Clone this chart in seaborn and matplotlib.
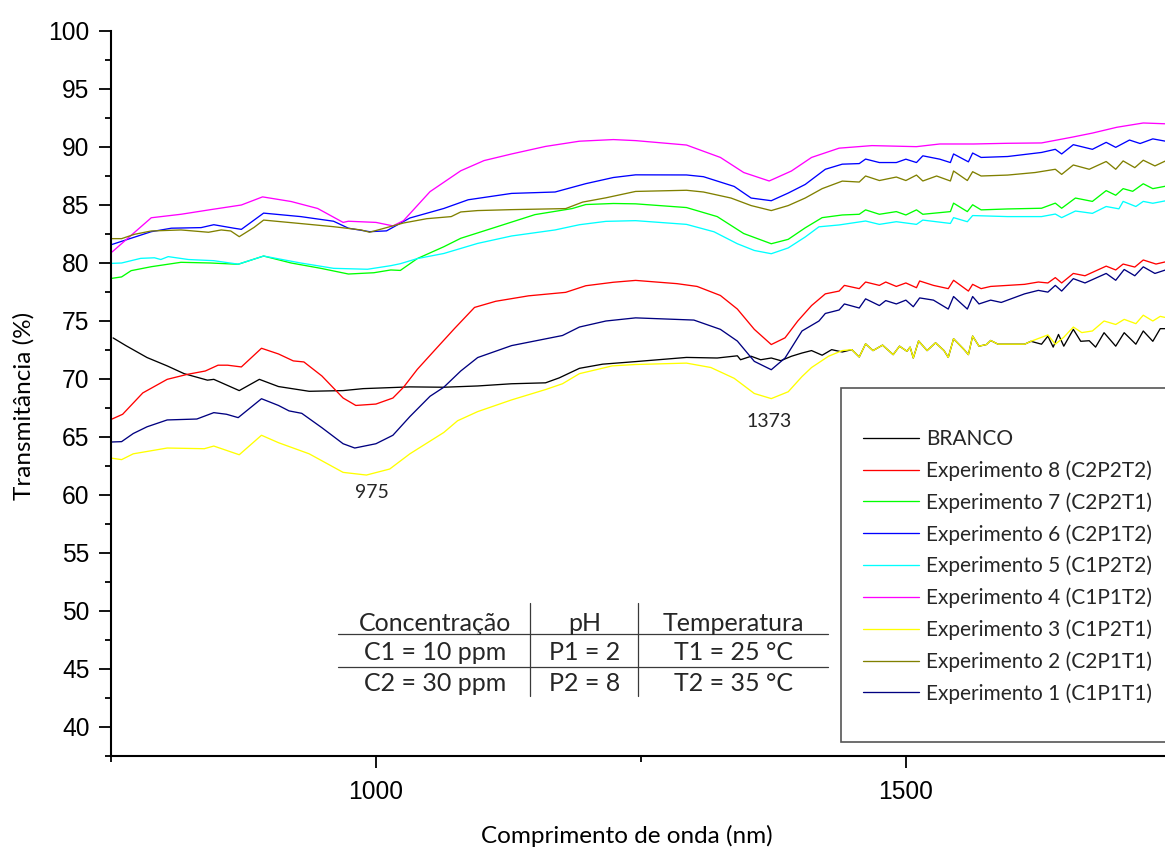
import numpy as np
import pandas as pd
import matplotlib
matplotlib.use("Agg")
import matplotlib.pyplot as plt
from matplotlib.ticker import MultipleLocator
from matplotlib.patches import Rectangle
from matplotlib.lines import Line2D
import seaborn as sns

# ---------------- data ----------------
series_names = ["BRANCO", "Experimento 8 (C2P2T2)", "Experimento 7 (C2P2T1)",
                "Experimento 6 (C2P1T2)", "Experimento 5 (C1P2T2)", "Experimento 4 (C1P1T2)",
                "Experimento 3 (C1P2T1)", "Experimento 2 (C2P1T1)", "Experimento 1 (C1P1T1)"]
series_colors = ["#000000", "#FF0000", "#00FF00", "#0000FF", "#00FFFF",
                 "#FF00FF", "#FFFF00", "#808000", "#000080"]

wl_branco = [752, 764, 784, 803, 819, 841, 847, 871, 890, 908, 937, 969, 988, 1032, 1064, 1096, 1128, 1160,
             1173, 1192, 1214, 1245, 1293, 1322, 1341, 1344, 1354, 1363, 1373, 1382, 1392, 1402, 1411, 1421,
             1430, 1440, 1449, 1456, 1462, 1469, 1478, 1488, 1494, 1501, 1504, 1507, 1512, 1520, 1528, 1536,
             1540, 1545, 1555, 1559, 1563, 1569, 1576, 1580, 1587, 1612, 1618, 1628, 1634, 1639, 1644, 1649,
             1658, 1665, 1673, 1679, 1687, 1698, 1706, 1717, 1724, 1733, 1740, 1745]
t_branco = [73.54, 72.88, 71.85, 71.13, 70.46, 69.9, 69.97, 69.0, 69.97, 69.35, 68.94, 69.0, 69.17, 69.32,
            69.29, 69.4, 69.59, 69.67, 70.1, 70.92, 71.28, 71.5, 71.86, 71.81, 72.0, 71.66, 71.96, 71.66,
            71.81, 71.58, 71.96, 72.24, 72.45, 72.05, 72.53, 72.33, 72.53, 71.9, 73.03, 72.45, 72.92, 72.1,
            72.83, 72.39, 72.75, 71.81, 73.28, 72.45, 73.12, 72.45, 71.86, 73.47, 72.53, 72.1, 73.7, 72.83,
            72.97, 73.32, 73.0, 73.0, 73.25, 73.0, 73.7, 72.75, 73.84, 72.83, 74.28, 73.25, 73.3, 72.75,
            73.99, 72.83, 73.99, 73.0, 74.14, 73.25, 74.34, 74.34]

wl_exp8 = [751, 761, 780, 803, 822, 839, 851, 860, 873, 892, 908, 922, 932, 949, 969, 981, 1000, 1016, 1026,
           1039, 1055, 1074, 1093, 1113, 1144, 1179, 1198, 1224, 1245, 1284, 1303, 1325, 1341, 1357, 1373,
           1386, 1398, 1411, 1424, 1437, 1442, 1456, 1462, 1475, 1481, 1491, 1500, 1510, 1513, 1526, 1540,
           1545, 1559, 1563, 1571, 1580, 1612, 1625, 1634, 1641, 1647, 1658, 1669, 1689, 1698, 1705, 1716,
           1724, 1736, 1745]
t_exp8 = [66.55, 66.96, 68.8, 69.97, 70.4, 70.69, 71.19, 71.19, 71.04, 72.65, 72.16, 71.56, 71.47, 70.26,
          68.36, 67.72, 67.84, 68.36, 69.29, 70.83, 72.44, 74.34, 76.17, 76.7, 77.17, 77.47, 78.04, 78.34,
          78.5, 78.22, 77.98, 77.2, 76.03, 74.28, 72.97, 73.55, 75.0, 76.33, 77.34, 77.58, 78.07, 77.79,
          78.36, 78.07, 78.36, 77.98, 78.28, 77.87, 78.45, 78.07, 77.79, 78.51, 77.58, 78.16, 77.79, 77.98,
          78.16, 78.36, 78.28, 78.74, 78.28, 79.1, 78.9, 79.73, 79.4, 79.91, 79.65, 80.26, 79.91, 80.1]

wl_exp7 = [751, 760, 769, 788, 816, 844, 870, 894, 920, 948, 974, 998, 1014, 1023, 1039, 1064, 1080, 1112,
           1150, 1185, 1198, 1224, 1245, 1293, 1322, 1347, 1373, 1389, 1405, 1421, 1440, 1456, 1462, 1475,
           1491, 1500, 1510, 1516, 1542, 1545, 1558, 1563, 1571, 1596, 1628, 1641, 1647, 1660, 1676, 1689,
           1698, 1705, 1714, 1724, 1733, 1745]
t_exp7 = [78.68, 78.8, 79.34, 79.68, 80.06, 80.0, 79.89, 80.6, 80.0, 79.54, 79.05, 79.16, 79.4, 79.36,
          80.38, 81.4, 82.13, 83.06, 84.17, 84.69, 85.04, 85.13, 85.1, 84.78, 84.0, 82.54, 81.66, 82.04,
          83.03, 83.91, 84.14, 84.2, 84.58, 84.2, 84.43, 84.14, 84.58, 84.2, 84.43, 85.16, 84.43, 85.02,
          84.58, 84.66, 84.72, 85.16, 84.72, 85.6, 85.31, 86.24, 85.84, 86.41, 86.18, 86.83, 86.41, 86.62]

wl_exp6 = [751, 788, 807, 835, 847, 866, 873, 894, 929, 960, 974, 994, 1010, 1032, 1064, 1087, 1128, 1169,
           1198, 1224, 1245, 1293, 1309, 1338, 1354, 1373, 1389, 1405, 1424, 1440, 1456, 1462, 1475, 1491,
           1500, 1510, 1516, 1532, 1542, 1545, 1559, 1563, 1571, 1596, 1628, 1641, 1647, 1658, 1676, 1689,
           1698, 1711, 1721, 1733, 1745]
t_exp6 = [81.6, 82.7, 83.0, 83.05, 83.3, 83.0, 82.9, 84.3, 84.0, 83.6, 83.0, 82.7, 82.77, 83.88, 84.7,
          85.45, 86.0, 86.12, 86.84, 87.37, 87.6, 87.59, 87.44, 86.6, 85.6, 85.37, 86.03, 86.77, 88.08,
          88.52, 88.57, 88.96, 88.66, 88.66, 88.95, 88.66, 89.24, 88.95, 88.66, 89.4, 88.72, 89.48, 89.1,
          89.18, 89.53, 89.8, 89.4, 90.2, 89.8, 90.4, 89.97, 90.6, 90.3, 90.7, 90.5]

wl_exp5 = [751, 760, 778, 791, 797, 804, 823, 847, 870, 894, 929, 960, 992, 1014, 1023, 1039, 1064, 1096,
           1128, 1169, 1192, 1217, 1245, 1293, 1319, 1341, 1357, 1373, 1389, 1405, 1418, 1437, 1462, 1475,
           1491, 1510, 1516, 1542, 1545, 1558, 1563, 1596, 1628, 1641, 1647, 1660, 1676, 1689, 1701, 1705,
           1717, 1724, 1733, 1745]
t_exp5 = [79.97, 80.0, 80.4, 80.45, 80.3, 80.55, 80.3, 80.2, 79.9, 80.6, 80.0, 79.54, 79.46, 79.77, 79.94,
          80.38, 80.82, 81.69, 82.33, 82.85, 83.3, 83.59, 83.65, 83.33, 82.69, 81.66, 81.08, 80.8, 81.3,
          82.24, 83.12, 83.28, 83.62, 83.33, 83.56, 83.33, 83.7, 83.41, 83.91, 83.56, 84.09, 84.0, 84.0,
          84.22, 83.91, 84.48, 84.28, 84.87, 84.67, 85.31, 84.87, 85.31, 85.15, 85.36]

wl_exp4 = [751, 788, 816, 844, 873, 893, 920, 945, 969, 974, 1000, 1016, 1026, 1051, 1080, 1102, 1128, 1160,
           1192, 1224, 1245, 1293, 1325, 1347, 1371, 1392, 1411, 1437, 1468, 1510, 1532, 1564, 1596, 1628,
           1657, 1676, 1699, 1724, 1745]
t_exp4 = [80.95, 83.9, 84.2, 84.6, 85.0, 85.7, 85.3, 84.7, 83.5, 83.6, 83.5, 83.2, 83.65, 86.15, 87.95,
          88.83, 89.4, 90.05, 90.5, 90.64, 90.55, 90.17, 89.1, 87.8, 87.07, 87.93, 89.1, 89.9, 90.12, 90.03,
          90.26, 90.26, 90.32, 90.35, 90.85, 91.2, 91.7, 92.07, 92.0]

wl_exp3 = [751, 760, 771, 803, 838, 847, 871, 892, 908, 937, 969, 991, 1013, 1032, 1064, 1077, 1096, 1128,
           1160, 1176, 1192, 1223, 1245, 1293, 1316, 1338, 1357, 1373, 1389, 1402, 1411, 1427, 1440, 1449,
           1456, 1462, 1469, 1478, 1488, 1494, 1501, 1504, 1507, 1512, 1520, 1528, 1536, 1540, 1545, 1555,
           1559, 1563, 1569, 1576, 1580, 1587, 1612, 1618, 1634, 1641, 1649, 1658, 1666, 1676, 1687, 1698,
           1706, 1717, 1724, 1733, 1740, 1745]
t_exp3 = [63.17, 63.05, 63.55, 64.05, 63.99, 64.22, 63.47, 65.15, 64.51, 63.55, 61.95, 61.72, 62.24, 63.55,
          65.39, 66.4, 67.19, 68.2, 69.09, 69.59, 70.46, 71.13, 71.25, 71.37, 70.99, 70.06, 68.75, 68.31,
          68.9, 70.21, 70.99, 71.96, 72.45, 72.53, 71.9, 73.03, 72.45, 72.92, 72.1, 72.83, 72.39, 72.75,
          71.81, 73.28, 72.45, 73.12, 72.45, 71.86, 73.47, 72.53, 72.1, 73.7, 72.83, 72.97, 73.32, 73.0,
          73.0, 73.25, 73.8, 73.0, 73.6, 74.48, 74.0, 74.14, 75.0, 74.7, 75.14, 74.77, 75.5, 75.0, 75.4,
          75.3]

wl_exp2 = [751, 760, 772, 788, 816, 842, 854, 863, 871, 885, 894, 929, 960, 986, 994, 1026, 1048, 1071,
           1080, 1096, 1128, 1179, 1195, 1217, 1245, 1293, 1309, 1335, 1354, 1373, 1389, 1405, 1421, 1440,
           1456, 1462, 1475, 1491, 1500, 1510, 1516, 1529, 1542, 1545, 1558, 1563, 1571, 1596, 1622, 1641,
           1647, 1658, 1673, 1689, 1698, 1705, 1716, 1724, 1735, 1745]
t_exp2 = [82.1, 82.1, 82.47, 82.76, 82.85, 82.65, 82.85, 82.76, 82.27, 83.07, 83.7, 83.4, 83.13, 82.85,
          82.65, 83.45, 83.82, 84.0, 84.4, 84.52, 84.6, 84.69, 85.25, 85.62, 86.17, 86.27, 86.12, 85.6,
          84.95, 84.52, 84.95, 85.6, 86.41, 87.06, 86.98, 87.5, 87.11, 87.41, 87.11, 87.58, 87.07, 87.5,
          87.07, 87.93, 87.11, 87.87, 87.5, 87.58, 87.8, 88.08, 87.64, 88.45, 88.08, 88.75, 88.08, 88.8,
          88.22, 88.86, 88.37, 88.8]

wl_exp1 = [751, 760, 771, 784, 803, 831, 847, 859, 870, 892, 908, 918, 930, 949, 969, 980, 1000, 1016,
           1032, 1051, 1064, 1080, 1096, 1128, 1160, 1176, 1192, 1217, 1245, 1277, 1300, 1325, 1341, 1357,
           1373, 1386, 1402, 1418, 1424, 1437, 1442, 1456, 1462, 1475, 1481, 1491, 1500, 1507, 1513, 1526,
           1540, 1545, 1558, 1563, 1569, 1580, 1590, 1612, 1625, 1634, 1641, 1647, 1658, 1669, 1689, 1698,
           1706, 1716, 1724, 1735, 1745]
t_exp1 = [64.57, 64.6, 65.3, 65.88, 66.47, 66.55, 67.1, 66.96, 66.67, 68.3, 67.72, 67.25, 67.04, 65.8,
          64.42, 64.05, 64.42, 65.15, 66.76, 68.51, 69.29, 70.69, 71.85, 72.88, 73.46, 73.75, 74.48, 75.0,
          75.27, 75.16, 75.08, 74.28, 73.27, 71.52, 70.8, 71.81, 74.14, 75.0, 75.65, 75.95, 76.47, 76.12,
          76.91, 76.33, 76.76, 76.47, 76.8, 76.23, 76.99, 76.8, 76.03, 77.11, 76.03, 77.11, 76.47, 76.8,
          76.6, 77.34, 77.64, 77.49, 78.07, 77.58, 78.65, 78.28, 79.1, 78.51, 79.44, 78.9, 79.67, 79.1,
          79.4]

wavelengths = [wl_branco, wl_exp8, wl_exp7, wl_exp6, wl_exp5, wl_exp4, wl_exp3, wl_exp2, wl_exp1]
transmittances = [t_branco, t_exp8, t_exp7, t_exp6, t_exp5, t_exp4, t_exp3, t_exp2, t_exp1]

peak_labels = ["975", "1373"]

table_rows = [["Concentração", "pH", "Temperatura"],
              ["C1 = 10 ppm", "P1 = 2", "T1 = 25 °C"],
              ["C2 = 30 ppm", "P2 = 8", "T2 = 35 °C"]]

# ---------------- build long table ----------------
frames = []
for name, wl, tr in zip(series_names, wavelengths, transmittances):
    frames.append(pd.DataFrame({"wl": wl, "T": tr, "serie": name}))
df = pd.concat(frames, ignore_index=True)

# ---------------- style ----------------
sns.set_style("ticks")
plt.rcParams["font.family"] = ["Lato", "DejaVu Sans"]

W, H = 1165, 850
fig = plt.figure(figsize=(W / 100, H / 100), dpi=100)

def fx(px):
    return px / W

def fy(py):
    return 1 - py / H

ax = fig.add_axes([fx(111), fy(756), fx(1165) - fx(111), fy(31) - fy(756)])

sns.lineplot(data=df, x="wl", y="T", hue="serie", hue_order=series_names,
             palette=dict(zip(series_names, series_colors)), estimator=None,
             linewidth=0.95, ax=ax, legend=False)

ax.set_xlim(750, 1744.5)
ax.set_ylim(37.5, 100)

sns.despine(ax=ax)
for s in ["left", "bottom"]:
    ax.spines[s].set_linewidth(1.5)
    ax.spines[s].set_color("black")

ax.xaxis.set_major_locator(MultipleLocator(500))
ax.xaxis.set_minor_locator(MultipleLocator(250))
ax.yaxis.set_major_locator(MultipleLocator(5))
ax.yaxis.set_minor_locator(MultipleLocator(2.5))
ax.tick_params(axis="both", which="both", bottom=True, left=True, top=False, right=False)
ax.tick_params(axis="both", which="major", direction="out", length=8.5, width=1.3,
               color="black", labelsize=17.7, labelcolor="black")
ax.tick_params(axis="both", which="minor", direction="out", length=4.3, width=1.3, color="black")
ax.tick_params(axis="x", which="major", pad=9)
ax.tick_params(axis="y", which="major", pad=7)
for lab in ax.get_xticklabels() + ax.get_yticklabels():
    lab.set_fontfamily("Liberation Sans")

ax.set_xlabel("Comprimento de onda (nm)", fontsize=17.5, va="center", color="black")
ax.xaxis.set_label_coords((627 - 111) / 1054, (756 - 836) / 725)
ax.set_ylabel("Transmitância (%)", fontsize=17.5, va="center", color="black")
ax.yaxis.set_label_coords((24 - 111) / 1054, (756 - 406) / 725)

# peak annotations
fig.text(fx(372), fy(492), peak_labels[0], fontsize=14, ha="center", va="center")
fig.text(fx(769), fy(421), peak_labels[1], fontsize=14, ha="center", va="center")

# ---------------- table of factors ----------------
col_x = [435, 585, 733]
row_base = [631, 660, 691]
for r, row in enumerate(table_rows):
    for c, txt in enumerate(row):
        fig.text(fx(col_x[c]), fy(row_base[r]), txt, fontsize=18, ha="center", va="baseline")
for yline in [634, 667]:
    fig.add_artist(Line2D([fx(338), fx(828)], [fy(yline), fy(yline)], color="#3a3a3a", lw=0.9))
for xline in [530, 638]:
    fig.add_artist(Line2D([fx(xline), fx(xline)], [fy(603), fy(696)], color="#3a3a3a", lw=0.9))

# ---------------- legend ----------------
fig.add_artist(Rectangle((fx(841), fy(742)), fx(1180) - fx(841), fy(388) - fy(742),
                         facecolor="white", edgecolor="#555555", lw=1.2, zorder=5))
handles = [Line2D([0], [0], color=c, lw=0.95) for c in series_colors]
leg = fig.legend(handles, series_names, loc="upper left",
                 bbox_to_anchor=(fx(863), fy(429)), bbox_transform=fig.transFigure,
                 frameon=False, fontsize=15, borderpad=0, borderaxespad=0,
                 handlelength=2.7, handletextpad=0.33, labelspacing=0.54)
leg.set_zorder(6)

fig.savefig("out.png", dpi=100)
